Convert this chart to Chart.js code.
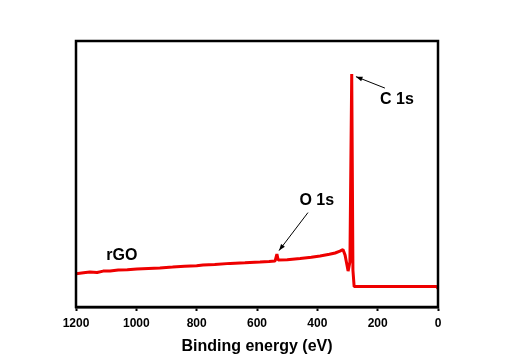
<!DOCTYPE html>
<html>
<head>
<meta charset="utf-8">
<script src="https://cdn.jsdelivr.net/npm/chart.js@4"></script>
<style>
  html, body { margin: 0; padding: 0; background: #fff; }
  #wrap { width: 510px; height: 360px; }
</style>
</head>
<body>
<div id="wrap"><canvas id="myChart"></canvas></div>
<script>
// binding energy (eV) and intensity (a.u.)
var energy    = [1200, 1175, 1154, 1130, 1110, 1087, 1060, 1030, 998, 960, 922, 880, 840, 800, 779, 740, 689, 640, 590, 560, 540, 534, 530, 500, 457, 420, 391, 360, 341, 325, 315, 308, 298, 292, 286, 282, 278, 200, 100, 5, 2, 0];
var intensity = [12.5, 12.9, 13.2, 13.0, 13.5, 13.5, 13.9, 14.0, 14.3, 14.5, 14.7, 15.0, 15.3, 15.5, 15.8, 16.0, 16.4, 16.6, 16.9, 17.1, 17.3, 19.9, 17.7, 17.8, 18.2, 18.7, 19.2, 19.8, 20.3, 21.0, 21.6, 19.5, 13.5, 16.9, 87.6, 13.9, 7.7, 7.7, 7.7, 7.7, 7.3, 7.0];
var xTicks = [1200, 1000, 800, 600, 400, 200, 0];

// peak labels: [text, x, y] and arrows: [fromX, fromY, toX, toY] in data units
var labels = [['C 1s', 136, 77.8], ['O 1s', 402, 40.0], ['rGO', 1048, 19.5]];
var arrows = [[176, 82.3, 272, 86.6], [431, 35.5, 527, 21.2]];

var points = energy.map(function (e, i) { return { x: e, y: intensity[i] }; });

var extras = {
    id: 'extras',
    afterDraw: function (chart) {
        var c = chart.ctx, a = chart.chartArea;
        var xs = chart.scales.x, ys = chart.scales.y;
        c.save();
        // frame
        c.strokeStyle = '#000';
        c.lineWidth = 2.5;
        c.strokeRect(a.left, a.top, a.right - a.left, a.bottom - a.top);
        // labels
        c.fillStyle = '#000';
        c.font = 'bold 16px "Liberation Sans", Arial, sans-serif';
        c.textAlign = 'center';
        c.textBaseline = 'middle';
        labels.forEach(function (l) {
            c.fillText(l[0], xs.getPixelForValue(l[1]), ys.getPixelForValue(l[2]));
        });
        // arrows
        c.lineWidth = 1;
        arrows.forEach(function (r) {
            var x1 = xs.getPixelForValue(r[0]), y1 = ys.getPixelForValue(r[1]);
            var x2 = xs.getPixelForValue(r[2]), y2 = ys.getPixelForValue(r[3]);
            var ang = Math.atan2(y2 - y1, x2 - x1);
            c.beginPath();
            c.moveTo(x1, y1);
            c.lineTo(x2, y2);
            c.stroke();
            c.beginPath();
            c.moveTo(x2, y2);
            c.lineTo(x2 - 7 * Math.cos(ang - 0.35), y2 - 7 * Math.sin(ang - 0.35));
            c.lineTo(x2 - 7 * Math.cos(ang + 0.35), y2 - 7 * Math.sin(ang + 0.35));
            c.closePath();
            c.fill();
        });
        c.restore();
    }
};

var ctx = document.getElementById('myChart').getContext('2d');
var chart = new Chart(ctx, {
    type: 'line',
    data: {
        datasets: [{
            data: points,
            borderColor: '#ee0000',
            borderWidth: 3,
            borderJoinStyle: 'bevel',
            pointRadius: 0,
            tension: 0,
            fill: false
        }]
    },
    options: {
        responsive: true,
        maintainAspectRatio: false,
        animation: false,
        layout: { padding: { left: 76, right: 72, top: 41, bottom: 0 } },
        plugins: { legend: { display: false }, tooltip: { enabled: false } },
        scales: {
            x: {
                type: 'linear',
                reverse: true,
                min: 0,
                max: 1200,
                afterBuildTicks: function (s) { s.ticks = xTicks.map(function (v) { return { value: v }; }); },
                afterFit: function (s) { s.height = 53; },
                grid: { drawOnChartArea: false, drawTicks: true, tickLength: 4, color: '#000', tickWidth: 2 },
                border: { display: true, color: '#000', width: 2.5 },
                ticks: {
                    color: '#000',
                    padding: 5,
                    maxRotation: 0,
                    callback: function (v) { return String(v); },
                    font: { family: '"Liberation Sans", Arial, sans-serif', size: 12, weight: 'bold' }
                },
                title: {
                    display: true,
                    text: 'Binding energy (eV)',
                    color: '#000',
                    padding: { top: 4, bottom: 4 },
                    font: { family: '"Liberation Sans", Arial, sans-serif', size: 16, weight: 'bold' }
                }
            },
            y: {
                display: false,
                min: 0,
                max: 100
            }
        }
    },
    plugins: [extras]
});
</script>
</body>
</html>
